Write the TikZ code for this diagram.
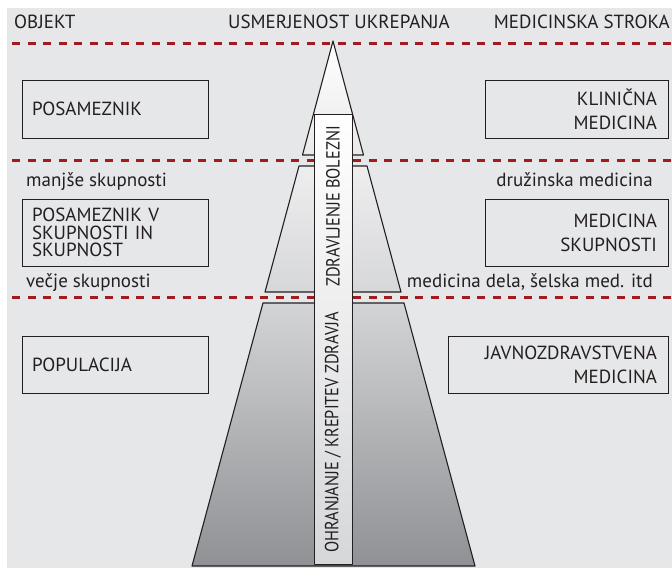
\documentclass[tikz,border=0pt]{standalone}
\usepackage{fontspec}
\setmainfont{PT Sans}
\newfontfamily\uzko{PT Sans}[FakeStretch=0.86]
\usetikzlibrary{positioning}

\definecolor{ozadje}{HTML}{E6E7E8}
\definecolor{rdeca}{HTML}{A11B20}
\definecolor{crta}{HTML}{231F20}
\definecolor{sivaA}{HTML}{E9E9EA}
\definecolor{sivaB}{HTML}{EEEEEF}
\definecolor{sivaC}{HTML}{D6D7D9}
\definecolor{sivaD}{HTML}{D3D4D6}
\definecolor{sivaE}{HTML}{909194}

\tikzset{
  meja/.style = {draw=rdeca, line width=3pt, dash pattern=on 8pt off 7.5pt},
  stozec/.style = {draw=crta, line width=1.1pt, line join=round},
  besedilo/.style = {text=crta, inner sep=0pt, font=\fontsize{19}{18}\selectfont},
  navpicno/.style = {text=crta, inner sep=0pt, rotate=90, font=\uzko\fontsize{19}{18}\selectfont},
  levo/.style = {draw=crta, line width=1pt, text=crta, inner xsep=10pt,
    text width=166pt, align=left, font=\fontsize{19}{17.5}\selectfont},
  desno/.style = {draw=crta, line width=1pt, text=crta, inner xsep=11pt,
    align=right, font=\fontsize{19}{24}\selectfont}
}

\begin{document}
\begin{tikzpicture}[x=1pt, y=-1pt]
    \useasboundingbox (0,0) rectangle (672,568);
    \fill [ozadje] (7,8) rectangle (672,568);

    % meje med ravnmi
    \draw [meja] (12,43) -- (672,43);
    \draw [meja] (12,160) -- (672,160);
    \draw [meja] (12,297) -- (672,297);

    % stozec
    \draw [stozec, top color=white, bottom color=sivaA] (333,41) -- (363.5,155) -- (302.5,155) -- cycle;
    \draw [stozec, top color=sivaB, bottom color=sivaC] (299,166) -- (367,166) -- (401,292) -- (265,292) -- cycle;
    \draw [stozec, top color=sivaD, bottom color=sivaE] (263,303) -- (404,303) -- (475,566) -- (192,566) -- cycle;
    \draw [stozec, line width=1pt, top color=white, bottom color=sivaC] (314,114) rectangle (352,564);
    \node [navpicno, anchor=east] (zdravljenje) at (333,126) {ZDRAVLJENJE BOLEZNI};
    \node [navpicno, anchor=west] (ohranjanje) at (333,553) {OHRANJANJE / KREPITEV ZDRAVJA};

    % glava
    \node [besedilo, anchor=base west] (objekt) at (14,28) {OBJEKT};
    \node [besedilo, anchor=base] (usmerjenost) at (339,28) {USMERJENOST UKREPANJA};
    \node [besedilo, anchor=base east] (stroka) at (670,28) {MEDICINSKA STROKA};

    % objekt
    \node [levo, minimum height=58pt] (posameznik) at (115,109) {POSAMEZNIK};
    \node [levo, minimum height=67pt] (skupnost) at (115,232.5) {POSAMEZNIK V\\SKUPNOSTI IN\\SKUPNOST};
    \node [levo, minimum height=57pt] (populacija) at (115,364.5) {POPULACIJA};
    \node [besedilo, anchor=base west] (manjse) at (26,186) {manjše skupnosti};
    \node [besedilo, anchor=base west] (vecje) at (26,287) {večje skupnosti};

    % stroka
    \node [desno, text width=161pt, minimum height=58pt] (klinicna) at (576.5,109) {KLINIČNA\\MEDICINA};
    \node [desno, text width=161pt, minimum height=67pt] (medskup) at (576.5,232.5) {MEDICINA\\SKUPNOSTI};
    \node [desno, text width=198pt, minimum height=57pt] (javno) at (558,364.5) {JAVNOZDRAVSTVENA\\MEDICINA};
    \node [besedilo, anchor=base east] (druzinska) at (653,186) {družinska medicina};
    \node [besedilo, anchor=base east] (dela) at (653,287) {medicina dela, šelska med. itd};
\end{tikzpicture}
\end{document}
